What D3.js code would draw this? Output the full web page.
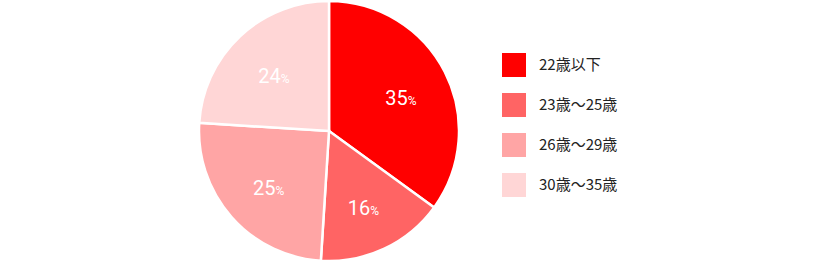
<!DOCTYPE html>
<meta charset="utf-8">
<style>
  body { margin: 0; background: #fff; }
  svg { display: block; }
</style>
<script src="https://d3js.org/d3.v7.min.js"></script>
<div id="chart"></div>
<script>
  // data
  var categories = ["22歳以下", "23歳〜25歳", "26歳〜29歳", "30歳〜35歳"];
  var values = [35, 16, 25, 24];
  var colors = ["#ff0000", "#ff6464", "#ffa5a5", "#ffd6d6"];

  var width = 820, height = 262;
  var cx = 329, cy = 131, radius = 130;

  var svg = d3.select("#chart").append("svg")
      .attr("width", width)
      .attr("height", height);

  var data = categories.map(function(c, i) { return {name: c, value: values[i], color: colors[i]}; });

  var pie = d3.pie().sort(null).value(function(d) { return d.value; });
  var arc = d3.arc().innerRadius(0).outerRadius(radius);
  var labelArc = d3.arc().innerRadius(radius * 0.62).outerRadius(radius * 0.62);

  var g = svg.append("g").attr("transform", "translate(" + cx + "," + cy + ")");

  g.selectAll("path.slice")
    .data(pie(data))
    .enter().append("path")
      .attr("class", "slice")
      .attr("d", arc)
      .attr("fill", function(d) { return d.data.color; })
      .attr("stroke", "#fff")
      .attr("stroke-width", 2.5);

  var lab = g.selectAll("text.lab")
    .data(pie(data))
    .enter().append("text")
      .attr("class", "lab")
      .attr("transform", function(d) { var c = labelArc.centroid(d); return "translate(" + c[0] + "," + (c[1] + 4) + ")"; })
      .attr("text-anchor", "middle")
      .attr("dy", "0.35em")
      .attr("fill", "#fff")
      .style("font-family", "Roboto, 'DejaVu Sans', sans-serif")
      .style("font-size", "20px");
  lab.append("tspan").text(function(d) { return d.data.value; });
  lab.append("tspan").text("%").style("font-size", "12px");

  // legend
  var legend = svg.append("g").attr("transform", "translate(502,53)");
  var y = d3.scalePoint().domain(categories).range([0, 120]);

  legend.selectAll("rect")
    .data(data)
    .enter().append("rect")
      .attr("x", 0)
      .attr("y", function(d) { return y(d.name); })
      .attr("width", 24)
      .attr("height", 24)
      .attr("fill", function(d) { return d.color; });

  legend.selectAll("text")
    .data(data)
    .enter().append("text")
      .attr("x", 37)
      .attr("y", function(d) { return y(d.name) + 12; })
      .attr("dy", "0.36em")
      .attr("fill", "#222")
      .style("font-family", "'Noto Sans CJK JP', 'Noto Sans', sans-serif")
      .style("font-size", "15px")
      .text(function(d) { return d.name; });
</script>
